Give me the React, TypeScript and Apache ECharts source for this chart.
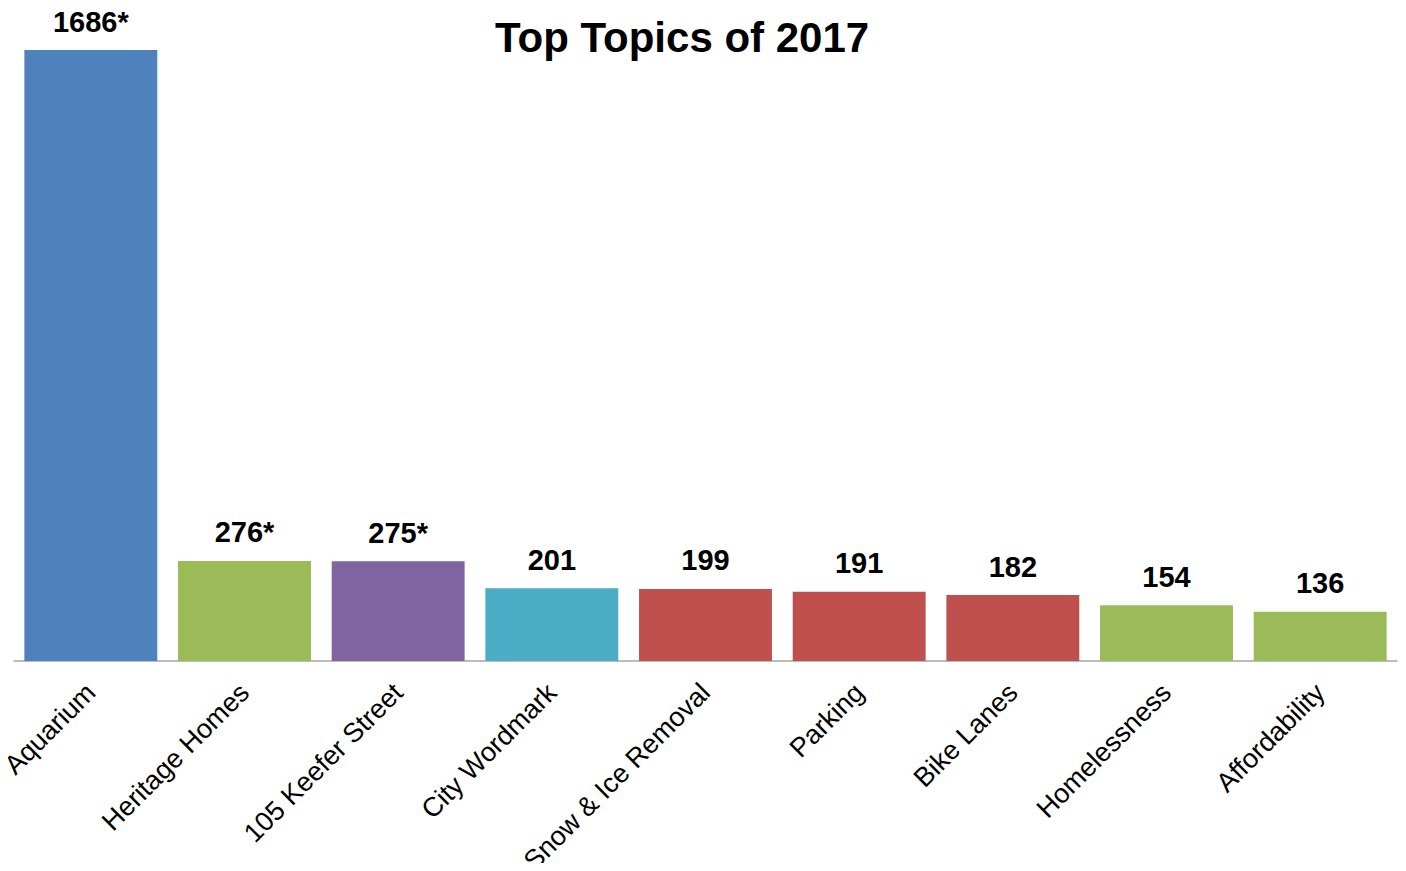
import React, { useEffect, useRef } from "react";
import * as echarts from "echarts";

const categories = [
  "Aquarium",
  "Heritage Homes",
  "105 Keefer Street",
  "City Wordmark",
  "Snow & Ice Removal",
  "Parking",
  "Bike Lanes",
  "Homelessness",
  "Affordability",
];
const mentions = [1686, 276, 275, 201, 199, 191, 182, 154, 136];
const notes = ["*", "*", "*", "", "", "", "", "", ""];
const barColors = [
  "#4F81BD",
  "#9BBB59",
  "#8064A2",
  "#4BACC6",
  "#C0504D",
  "#C0504D",
  "#C0504D",
  "#9BBB59",
  "#9BBB59",
];
const titleText = "Top Topics of 2017";

export default function App() {
  const ref = useRef<HTMLDivElement>(null);
  useEffect(() => {
    if (!ref.current) return;
    const chart = echarts.init(ref.current, null, { renderer: "svg" });
    const font = "Liberation Sans, Arial, sans-serif";
    chart.setOption({
      animation: false,
      backgroundColor: "#ffffff",
      title: {
        text: titleText,
        left: 490,
        top: 11,
        textStyle: {
          fontFamily: font,
          fontSize: 42,
          fontWeight: "bold",
          color: "#000",
        },
      },
      grid: {
        left: 14,
        right: 9,
        top: 50,
        bottom: 210,
        containLabel: false,
        outerBoundsMode: "none",
      },
      xAxis: {
        type: "category",
        data: categories,
        axisLine: { lineStyle: { color: "#A6A6A6", width: 1.5 } },
        axisTick: { show: false },
        axisLabel: {
          rotate: 45,
          interval: 0,
          margin: 27,
          fontFamily: font,
          fontSize: 27,
          color: "#000",
        },
      },
      yAxis: {
        type: "value",
        min: 0,
        max: 1686,
        show: false,
        splitLine: { show: false },
      },
      series: [
        {
          type: "bar",
          barCategoryGap: "13.5%",
          data: mentions.map((v, i) => ({
            value: v,
            itemStyle: { color: barColors[i] },
          })),
          label: {
            show: true,
            position: "top",
            distance: 14,
            fontFamily: font,
            fontSize: 29,
            fontWeight: "bold",
            color: "#000",
            formatter: (p: any) => `${p.value}${notes[p.dataIndex]}`,
          },
        },
      ],
    });
    return () => chart.dispose();
  }, []);
  return <div ref={ref} style={{ width: 1406, height: 871, margin: -8 }} />;
}
